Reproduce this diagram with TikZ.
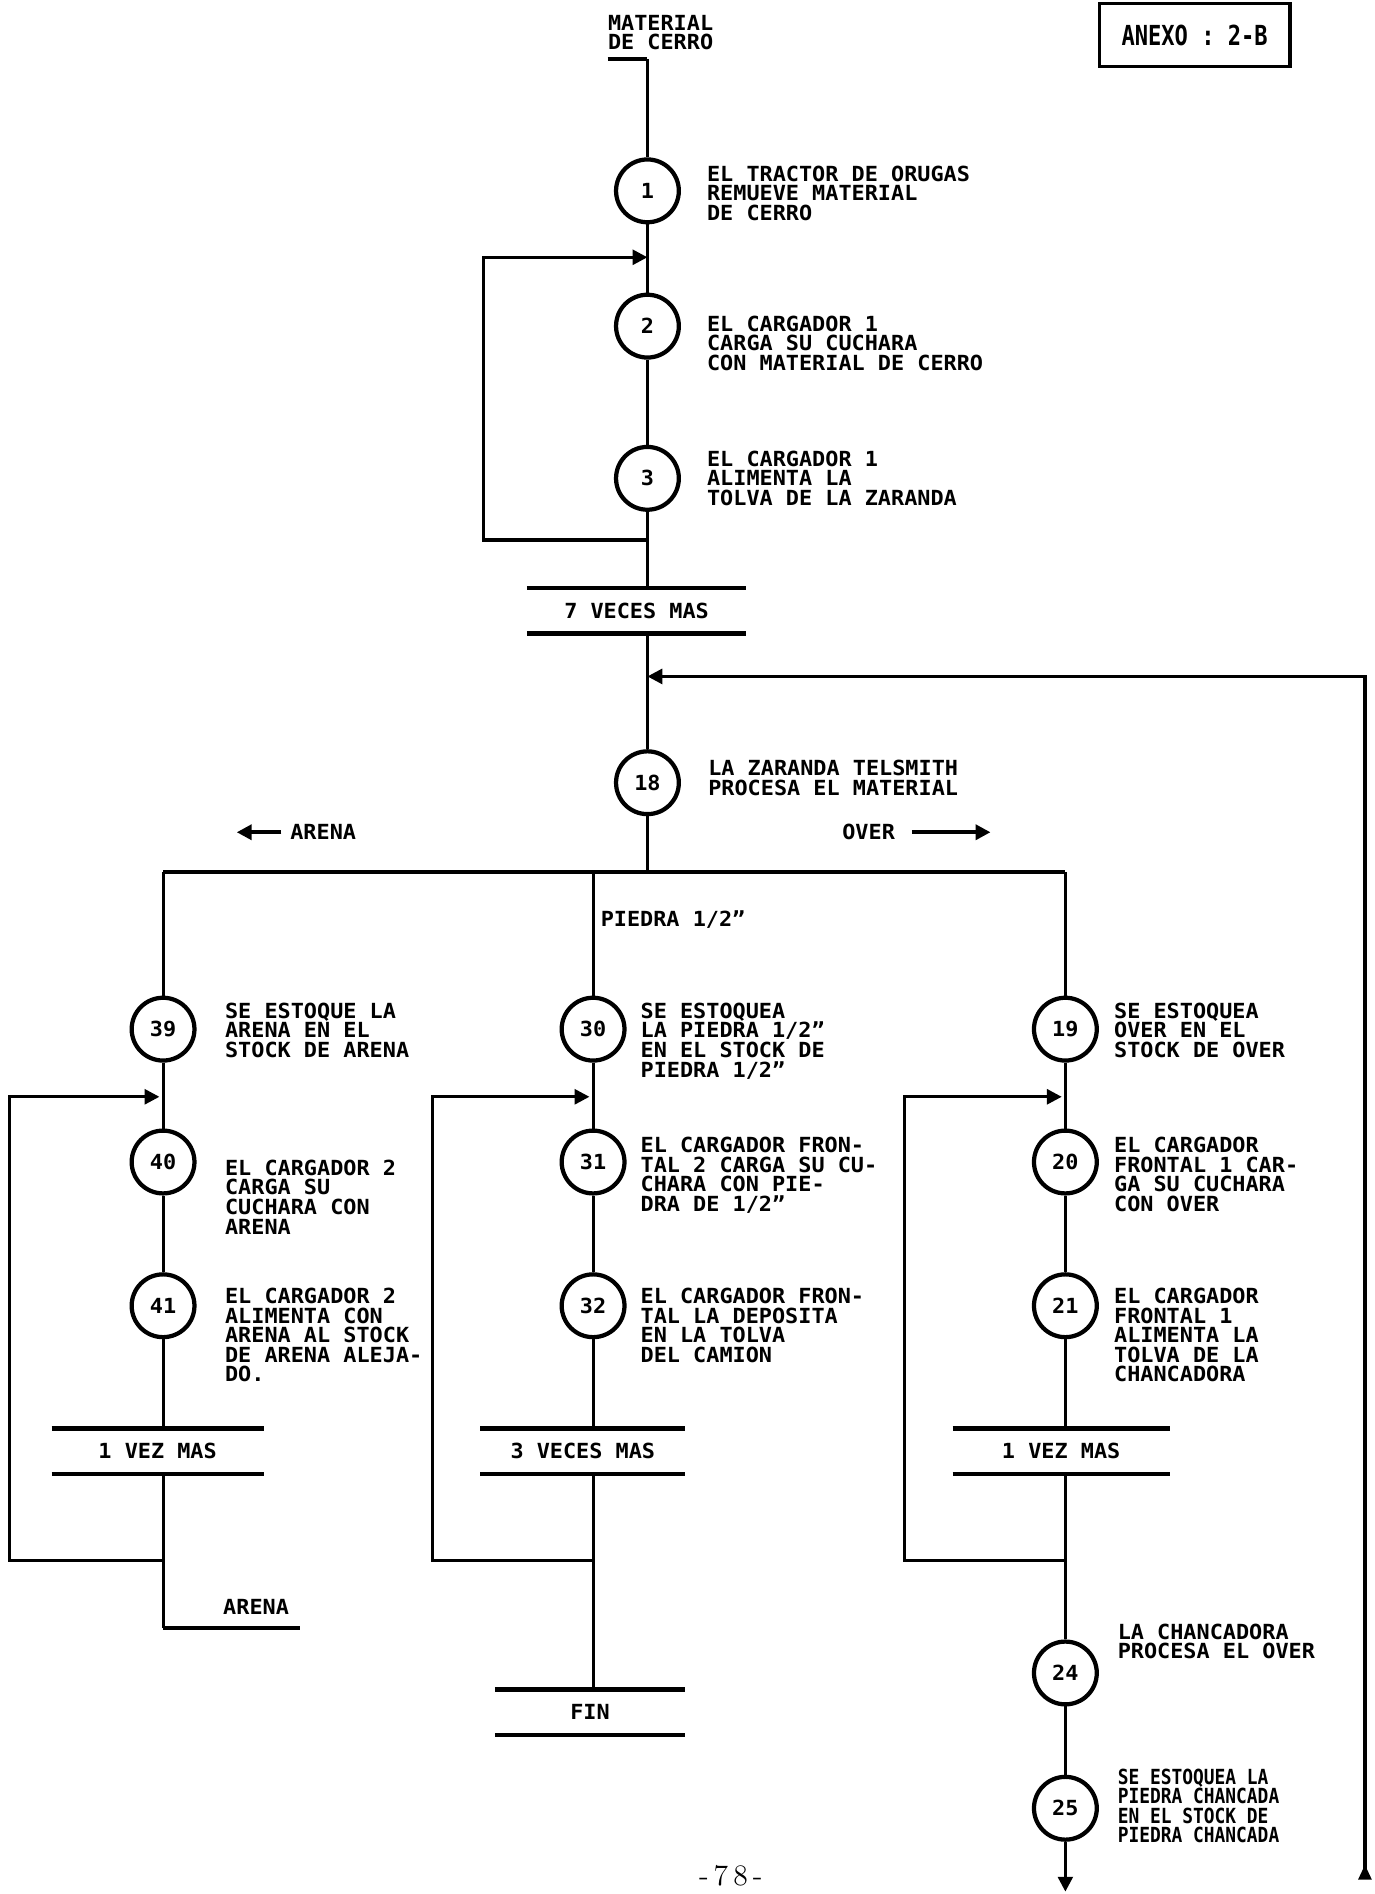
\documentclass[tikz,border=0pt]{standalone}
\usepackage{fontspec}
\usetikzlibrary{arrows.meta}
\newfontfamily\dotfont[FakeStretch=1.05]{DejaVu Sans Mono}
\newfontfamily\dotfontn[FakeStretch=0.86]{DejaVu Sans Mono}
\newfontfamily\anexofont[FakeStretch=0.8]{DejaVu Sans Mono}
\newcommand{\dottxt}{\dotfont\bfseries\fontsize{9.8}{9.2}\selectfont}

\begin{document}
\begin{tikzpicture}[x=0.02cm,y=-0.02cm,>={Triangle[length=7pt,width=7pt]},
  op/.style={circle,draw,line width=2pt,minimum size=1.04cm,inner sep=0pt,font=\dottxt},
  txt/.style={anchor=north west,inner sep=0pt,align=left,font=\dottxt},
  lbl/.style={inner sep=0pt,font=\dottxt},
  rep/.style={minimum height=0.74cm,inner sep=0pt,font=\dottxt},
  bar/.style={line width=2.2pt},
  flow/.style={line width=1.4pt},
  back/.style={line width=1.5pt},
  ar/.style={line width=2pt}]
  \useasboundingbox (0,0) rectangle (1138,1568);
  \fill[white] (0,0) rectangle (1138,1568);

  \node[draw,line width=1.6pt,minimum width=3.16cm,minimum height=1.04cm,
    font=\anexofont\bfseries\fontsize{13}{13}\selectfont] (anexo) at (989,29) {ANEXO : 2-B};

  \node[txt] (mat) at (503,12) {MATERIAL\\DE CERRO};
  \coordinate (m0) at (503,49);
  \coordinate (m1) at (536,49);

  \node[op] (c1) at (536,158) {1};
  \node[op] (c2) at (536,270) {2};
  \node[op] (c3) at (536,396) {3};
  \node[txt] (t1) at (585,137) {EL TRACTOR DE ORUGAS\\REMUEVE MATERIAL\\DE CERRO};
  \node[txt] (t2) at (585,261) {EL CARGADOR 1\\CARGA SU CUCHARA\\CON MATERIAL DE CERRO};
  \node[txt] (t3) at (585,373) {EL CARGADOR 1\\ALIMENTA LA\\TOLVA DE LA ZARANDA};
  \node[rep,minimum width=3.62cm] (v7) at (527,505.5) {7 VECES MAS};
  \draw[bar] (v7.north west) -- (v7.north east) (v7.south west) -- (v7.south east);

  \draw[ar] (m0) -- (m1);
  \draw[flow] (m1) -- (c1) -- (c2) -- (c3) -- (c3 |- v7.north);
  \coordinate (j2) at (536,213);
  \coordinate (k2a) at (400,213);
  \coordinate (k2b) at (400,447);
  \coordinate (j3) at (536,447);
  \draw[back,->] (j3) -- (k2b) -- (k2a) -- (j2);

  \node[op] (c18) at (536,648) {18};
  \node[txt] (t18) at (586,629) {LA ZARANDA TELSMITH\\PROCESA EL MATERIAL};
  \draw[flow] (v7.south -| c3) -- (c18);
  \coordinate (f0) at (1130,1556);
  \coordinate (f2) at (1130,560);
  \coordinate (j18) at (536,560);
  \draw[back,{Triangle[reversed,length=7pt,width=6pt]}->] (f0) -- (f2) -- (j18);

  \node[lbl,anchor=west] (arena1) at (240,689) {ARENA};
  \coordinate (aa0) at (233,689);
  \coordinate (aa1) at (196,689);
  \draw[ar,->] (aa0) -- (aa1);
  \node[lbl,anchor=west] (over) at (697,689) {OVER};
  \coordinate (ov0) at (755,689);
  \coordinate (ov1) at (820,689);
  \draw[ar,->] (ov0) -- (ov1);

  \coordinate (s0) at (536,722);
  \coordinate (sa) at (135,722);
  \coordinate (sb) at (491,722);
  \coordinate (sc) at (882,722);
  \draw[flow] (c18) -- (s0);
  \draw[ar] (sa) -- (sc);
  \node[lbl,anchor=west] (piedra) at (497,761) {PIEDRA 1/2”};

  % arena
  \node[op] (c39) at (135,852) {39};
  \node[op] (c40) at (135,962) {40};
  \node[op] (c41) at (135,1081) {41};
  \node[txt] (t39) at (186,830) {SE ESTOQUE LA\\ARENA EN EL\\STOCK DE ARENA};
  \node[txt] (t40) at (186,960) {EL CARGADOR 2\\CARGA SU\\CUCHARA CON\\ARENA};
  \node[txt] (t41) at (186,1066) {EL CARGADOR 2\\ALIMENTA CON\\ARENA AL STOCK\\DE ARENA ALEJA-\\DO.};
  \node[rep,minimum width=3.5cm] (r41) at (130.5,1201.5) {1 VEZ MAS};
  \draw[bar] (r41.north west) -- (r41.north east) (r41.south west) -- (r41.south east);
  \node[lbl] (arena2) at (212,1330) {ARENA};
  \coordinate (ar1) at (135,1348);
  \coordinate (ar2) at (248,1348);
  \draw[flow] (sa) -- (c39) -- (c40) -- (c41) -- (c41 |- r41.north);
  \draw[flow] (r41.south -| c41) -- (ar1);
  \draw[ar] (ar1) -- (ar2);
  \coordinate (ja) at (132,908);
  \coordinate (qa1) at (8,908);
  \coordinate (qa2) at (8,1292);
  \coordinate (qa3) at (135,1292);
  \draw[back,->] (qa3) -- (qa2) -- (qa1) -- (ja);

  % piedra 1/2
  \node[op] (c30) at (491,852) {30};
  \node[op] (c31) at (491,962) {31};
  \node[op] (c32) at (491,1081) {32};
  \node[txt] (t30) at (530,830) {SE ESTOQUEA\\LA PIEDRA 1/2”\\EN EL STOCK DE\\PIEDRA 1/2”};
  \node[txt] (t31) at (530,941) {EL CARGADOR FRON-\\TAL 2 CARGA SU CU-\\CHARA CON PIE-\\DRA DE 1/2”};
  \node[txt] (t32) at (530,1066) {EL CARGADOR FRON-\\TAL LA DEPOSITA\\EN LA TOLVA\\DEL CAMION};
  \node[rep,minimum width=3.38cm] (r32) at (482.5,1201.5) {3 VECES MAS};
  \draw[bar] (r32.north west) -- (r32.north east) (r32.south west) -- (r32.south east);
  \node[rep,minimum width=3.14cm] (fin) at (488.5,1417.5) {FIN};
  \draw[bar] (fin.north west) -- (fin.north east) (fin.south west) -- (fin.south east);
  \draw[flow] (sb) -- (c30) -- (c31) -- (c32) -- (c32 |- r32.north);
  \draw[flow] (r32.south -| c32) -- (c32 |- fin.north);
  \coordinate (jb) at (488,908);
  \coordinate (qb1) at (358,908);
  \coordinate (qb2) at (358,1292);
  \coordinate (qb3) at (491,1292);
  \draw[back,->] (qb3) -- (qb2) -- (qb1) -- (jb);

  % over
  \node[op] (c19) at (882,852) {19};
  \node[op] (c20) at (882,962) {20};
  \node[op] (c21) at (882,1081) {21};
  \node[txt] (t19) at (922,830) {SE ESTOQUEA\\OVER EN EL\\STOCK DE OVER};
  \node[txt] (t20) at (922,941) {EL CARGADOR\\FRONTAL 1 CAR-\\GA SU CUCHARA\\CON OVER};
  \node[txt] (t21) at (922,1066) {EL CARGADOR\\FRONTAL 1\\ALIMENTA LA\\TOLVA DE LA\\CHANCADORA};
  \node[rep,minimum width=3.58cm] (r21) at (878.5,1201.5) {1 VEZ MAS};
  \draw[bar] (r21.north west) -- (r21.north east) (r21.south west) -- (r21.south east);
  \node[op] (c24) at (882,1385) {24};
  \node[op] (c25) at (882,1497) {25};
  \node[txt] (t24) at (925,1344) {LA CHANCADORA\\PROCESA EL OVER};
  \node[txt,font=\dotfontn\bfseries\fontsize{9.8}{9.2}\selectfont] (t25) at (925,1464) {SE ESTOQUEA LA\\PIEDRA CHANCADA\\EN EL STOCK DE\\PIEDRA CHANCADA};
  \coordinate (e25) at (882,1566);
  \draw[flow] (sc) -- (c19) -- (c20) -- (c21) -- (c21 |- r21.north);
  \draw[flow] (r21.south -| c21) -- (c24) -- (c25);
  \draw[flow,->] (c25) -- (e25);
  \coordinate (jc) at (879,908);
  \coordinate (qc1) at (749,908);
  \coordinate (qc2) at (749,1292);
  \coordinate (qc3) at (882,1292);
  \draw[back,->] (qc3) -- (qc2) -- (qc1) -- (jc);

  \node[font=\fontsize{14}{14}\selectfont] (pg) at (605,1553) {-\,7\,8\,-};
\end{tikzpicture}
\end{document}
